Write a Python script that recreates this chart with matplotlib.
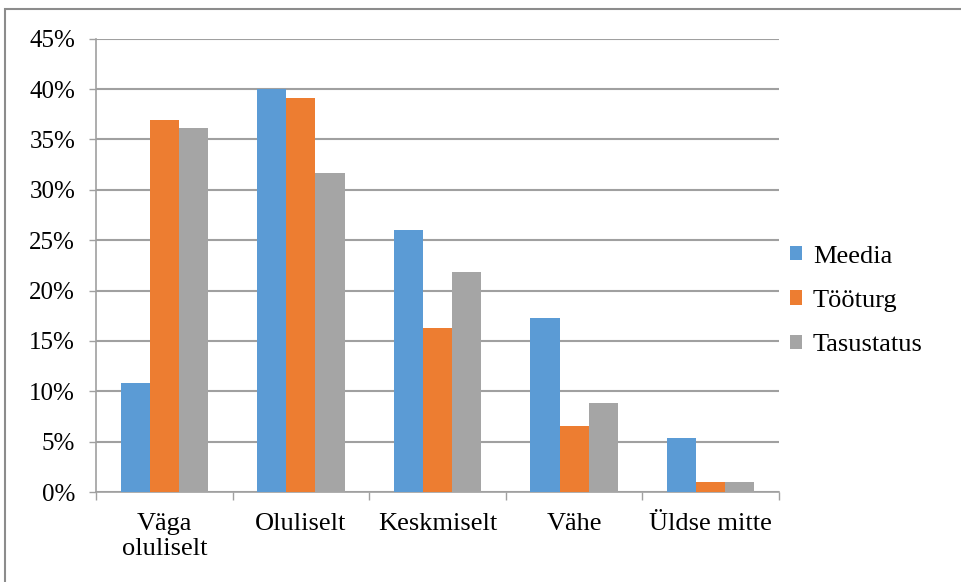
import matplotlib.pyplot as plt
import matplotlib.patches as mpatches
import numpy as np

# === DATA ===
categories = ["Väga\noluliselt", "Oluliselt", "Keskmiselt", "Vähe", "Üldse mitte"]
meedia = [10.8, 40.0, 26.0, 17.3, 5.4]
tooturg = [36.9, 39.1, 16.3, 6.6, 1.0]
tasustatus = [36.1, 31.7, 21.8, 8.8, 1.0]
series_names = ["Meedia", "Tööturg", "Tasustatus"]
colors = ["#5B9BD5", "#ED7D31", "#A5A5A5"]
y_ticks = [0, 5, 10, 15, 20, 25, 30, 35, 40, 45]

plt.rcParams["font.family"] = ["Liberation Serif", "DejaVu Serif"]

fig = plt.figure(figsize=(9.61, 5.82), dpi=100)
ax = fig.add_axes([0.0999, 0.1546, 0.7107, 0.779])

x = np.arange(len(categories))
width = 0.213
for i, (vals, name, col) in enumerate(zip([meedia, tooturg, tasustatus], series_names, colors)):
    ax.bar(x + (i - 1) * width, vals, width, color=col, label=name, zorder=3)

ax.set_ylim(0, 45)
ax.set_xlim(-0.5, len(categories) - 0.5)
ax.set_yticks(y_ticks)
ax.set_yticklabels([f"{t}%" for t in y_ticks], fontsize=18)
ax.yaxis.grid(True, color="#A0A0A0", linewidth=1.5, zorder=0)
ax.tick_params(axis="y", length=5, width=1, color="#A0A0A0", pad=10)

# category labels centred, tick marks on boundaries
ax.set_xticks(x)
ax.set_xticklabels(categories, fontsize=19)
ax.tick_params(axis="x", which="major", length=0, pad=15)
ax.set_xticks(np.arange(-0.5, len(categories), 1), minor=True)
ax.tick_params(axis="x", which="minor", length=6, width=1, color="#A0A0A0")

for side in ["top", "right"]:
    ax.spines[side].set_visible(False)
for side in ["left", "bottom"]:
    ax.spines[side].set_color("#A0A0A0")
    ax.spines[side].set_linewidth(1.2)

fig.legend(
    loc="upper left",
    bbox_to_anchor=(0.822, 0.578),
    frameon=False,
    fontsize=19,
    handlelength=0.47,
    handleheight=0.47,
    handletextpad=0.4,
    labelspacing=0.85,
    borderaxespad=0,
    borderpad=0,
)

# outer chart frame
fig.patches.append(
    mpatches.Rectangle(
        (0.005, -0.01), 1.0, 0.995, transform=fig.transFigure,
        fill=False, edgecolor="#8C8C8C", linewidth=1.5,
    )
)

fig.savefig("out.png", dpi=100)
